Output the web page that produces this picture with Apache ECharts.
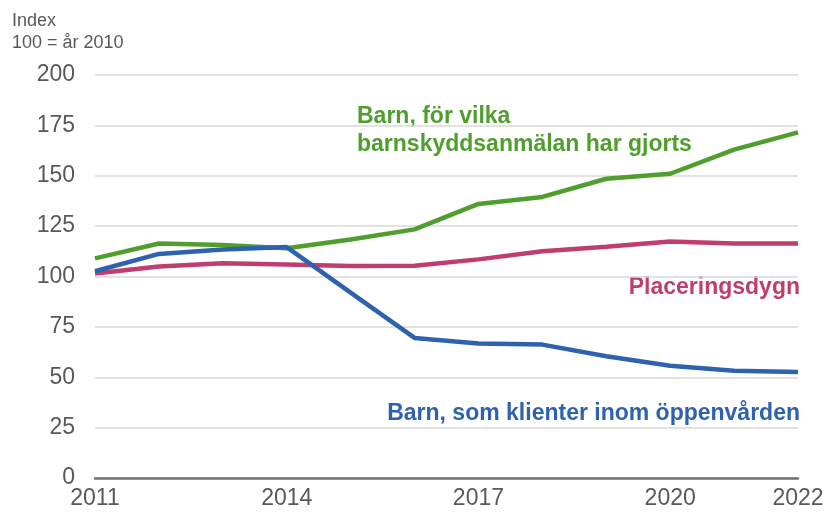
<!DOCTYPE html>
<html>
<head>
<meta charset="utf-8">
<script src="https://cdn.jsdelivr.net/npm/echarts@6/dist/echarts.min.js"></script>
<style>
html,body{margin:0;padding:0;background:#fff;}
#chart{width:830px;height:515px;}
</style>
</head>
<body>
<div id="chart"></div>
<script>
var years = ['2011','2012','2013','2014','2015','2016','2017','2018','2019','2020','2021','2022'];
var shownYearIdx = [0, 3, 6, 9, 11];
var barnAnmalan = [109, 116.4, 115.6, 114, 118.4, 123.4, 136, 139.5, 148.5, 151, 163, 171.5];
var placeringsdygn = [101.5, 105, 106.6, 106, 105.2, 105.3, 108.5, 112.5, 114.8, 117.4, 116.4, 116.4];
var barnOppenvard = [102.6, 111.2, 113.4, 114.6, 92, 69.5, 66.7, 66.2, 60.4, 55.7, 53.2, 52.6];
var yMin = 0, yMax = 200, yStep = 25;
var titleLines = ['Index', '100 = år 2010'];
var labelGreen = 'Barn, för vilka\nbarnskyddsanmälan har gjorts';
var labelPink = 'Placeringsdygn';
var labelBlue = 'Barn, som klienter inom öppenvården';

var cGreen = '#4f9e2e', cPink = '#c03d6f', cBlue = '#2e62ae';
var font = '"Liberation Sans", Arial, sans-serif';

var chart = echarts.init(document.getElementById('chart'), null, {renderer: 'canvas'});
chart.setOption({
  animation: false,
  backgroundColor: '#ffffff',
  grid: {left: 95, right: 32, top: 75, bottom: 37, containLabel: false},
  xAxis: {
    type: 'category',
    data: years,
    boundaryGap: false,
    axisLine: {show: true, lineStyle: {color: '#737373', width: 2.5}},
    axisTick: {show: false},
    splitLine: {show: false},
    axisLabel: {
      interval: function (i) { return shownYearIdx.indexOf(i) >= 0; },
      color: '#595959', fontFamily: font, fontSize: 23, margin: 9
    }
  },
  yAxis: {
    type: 'value',
    min: yMin, max: yMax, interval: yStep,
    axisLine: {show: false},
    axisTick: {show: false},
    splitLine: {show: true, lineStyle: {color: '#d9d9d9', width: 1.5}},
    axisLabel: {color: '#595959', fontFamily: font, fontSize: 23, margin: 20}
  },
  series: [
    {type: 'line', data: barnAnmalan, symbol: 'none', lineStyle: {color: cGreen, width: 4.5}, z: 2},
    {type: 'line', data: placeringsdygn, symbol: 'none', lineStyle: {color: cPink, width: 4.5}, z: 3},
    {type: 'line', data: barnOppenvard, symbol: 'none', lineStyle: {color: cBlue, width: 4.5}, z: 4}
  ],
  graphic: [
    {type: 'text', left: 12, top: 10, style: {text: titleLines.join('\n'), fill: '#595959', font: '18px ' + font, lineHeight: 22}},
    {type: 'text', left: 357, top: 103, style: {text: labelGreen, fill: cGreen, font: 'bold 23px ' + font, lineHeight: 28}},
    {type: 'text', right: 30, top: 276, style: {text: labelPink, fill: cPink, font: 'bold 23px ' + font, textAlign: 'right'}},
    {type: 'text', right: 30, top: 402, style: {text: labelBlue, fill: cBlue, font: 'bold 23px ' + font, textAlign: 'right'}}
  ]
});
</script>
</body>
</html>
